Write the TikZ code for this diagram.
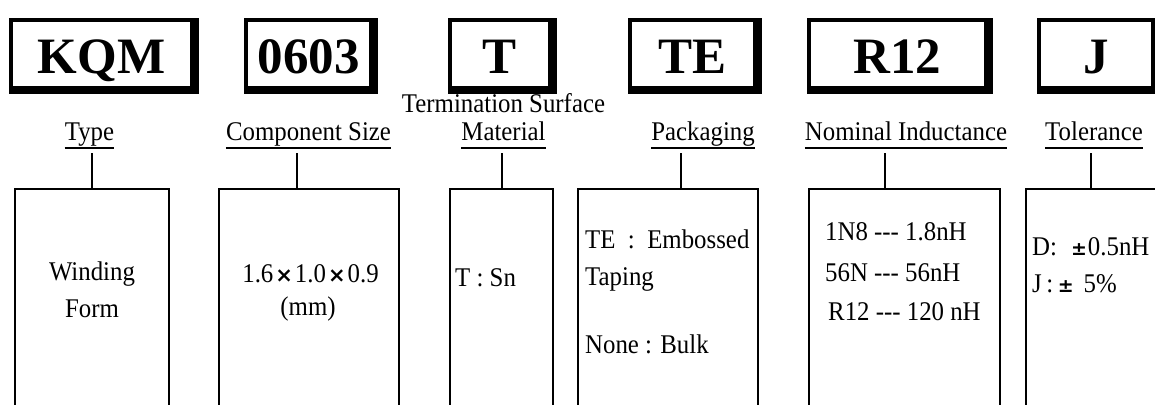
\documentclass[tikz,border=0pt]{standalone}
\usepackage{fontspec}
\setmainfont{Liberation Serif}
\newfontfamily\tallfont{Liberation Serif}[FakeStretch=0.92]
\newfontfamily\symfont{DejaVu Sans}
\newcommand{\tms}{{\symfont\bfseries\fontsize{21}{21}\selectfont ×}}
\newcommand{\pmx}{{\symfont\bfseries\fontsize{19}{19}\selectfont ±}}
\begin{document}
\begin{tikzpicture}[x=1pt,y=-1pt,
  codebox/.style={draw, line width=4pt, inner sep=0pt, minimum height=68pt,
    text height=38pt, text depth=0pt, font=\fontsize{51}{51}\selectfont\bfseries},
  lab/.style={inner sep=0pt, anchor=base, font=\tallfont\fontsize{27}{30}\selectfont},
  txt/.style={inner sep=0pt, font=\tallfont\fontsize{27}{30}\selectfont},
  infobox/.style={draw, line width=2.5pt, anchor=north west, inner sep=0pt,
    outer sep=0pt, minimum height=240pt},
  link/.style={line width=2.5pt},
  uline/.style={line width=1.5pt}]
\useasboundingbox (0,0) rectangle (1155,404);
\clip (0,0) rectangle (1155,404);

% code boxes
\node[codebox, minimum width=181pt] (kqm) at (101.5,54) {KQM};
\node[codebox, minimum width=125pt] (sz)  at (308.5,54) {0603};
\node[codebox, minimum width=100pt] (tm)  at (500,54)   {T};
\node[codebox, minimum width=125pt] (pk)  at (692.5,54) {TE};
\node[codebox, minimum width=177pt] (ind) at (897.5,54) {R12};
\node[codebox, minimum width=114pt] (tol) at (1096,54)  {J};
\foreach \n in {kqm,sz,tm,pk,ind,tol}{
  \fill ([xshift=-4pt]\n.north east) rectangle ([xshift=5pt,yshift=-4pt]\n.south east);
  \fill ([yshift=4pt]\n.south west) rectangle ([xshift=5pt,yshift=-4pt]\n.south east);
}

% labels
\node[lab] (lType) at (89.5,140)  {Type};
\node[lab] (lSize) at (308.5,140) {Component Size};
\node[lab] (lTerm) at (503.5,112) {Termination Surface};
\node[lab] (lMat)  at (503.5,140) {Material};
\node[lab] (lPack) at (703,140)   {Packaging};
\node[lab] (lInd)  at (906,140)   {Nominal Inductance};
\node[lab] (lTol)  at (1094,140)  {Tolerance};
\foreach \n in {lType,lSize,lMat,lPack,lInd,lTol}{
  \draw[uline] ([yshift=-8pt]\n.base west) -- ([yshift=-8pt]\n.base east);
}

% info boxes
\node[infobox, minimum width=154pt] (b1) at (15,189)   {};
\node[infobox, minimum width=180pt] (b2) at (219,189)  {};
\node[infobox, minimum width=103pt] (b3) at (450,189)  {};
\node[infobox, minimum width=180pt] (b4) at (578,189)  {};
\node[infobox, minimum width=191pt] (b5) at (809,189)  {};
\node[infobox, minimum width=174pt] (b6) at (1026,189) {};

% connectors
\coordinate (c1) at (92,153);
\coordinate (c2) at (297,153);
\coordinate (c3) at (502,153);
\coordinate (c4) at (681,153);
\coordinate (c5) at (885,153);
\coordinate (c6) at (1091,153);
\draw[link] (c1) -- (c1 |- b1.north);
\draw[link] (c2) -- (c2 |- b2.north);
\draw[link] (c3) -- (c3 |- b3.north);
\draw[link] (c4) -- (c4 |- b4.north);
\draw[link] (c5) -- (c5 |- b5.north);
\draw[link] (c6) -- (c6 |- b6.north);

% box texts
\node[txt, anchor=base] (t11) at (92,280) {Winding};
\node[txt, anchor=base] (t12) at (92,317) {Form};
\node[txt, anchor=base] (t21) at (310.5,282) {1.6\kern2pt\tms\kern2pt1.0\kern2pt\tms\kern2pt0.9};
\node[txt, anchor=base] (t22) at (308,315) {(mm)};
\node[txt, anchor=base west] (t31) at (455,286) {T : Sn};
\node[txt, anchor=base west] (t41) at (585,248) {TE\ \ :\ \ Embossed};
\node[txt, anchor=base west] (t42) at (585,285) {Taping};
\node[txt, anchor=base west] (t43) at (585,353) {None : Bulk};
\node[txt, anchor=base west] (t51) at (825,240) {1N8 -{}-{}- 1.8nH};
\node[txt, anchor=base west] (t52) at (825,281) {56N -{}-{}- 56nH};
\node[txt, anchor=base west] (t53) at (828,320) {R12 -{}-{}- 120 nH};
\node[txt, anchor=base west] (t61) at (1032,255) {D:\hspace{14pt}\pmx\hspace{1pt}0.5nH};
\node[txt, anchor=base west] (t62) at (1032,292) {J\,:\,\pmx\hspace{10pt}5\%};
\end{tikzpicture}
\end{document}
